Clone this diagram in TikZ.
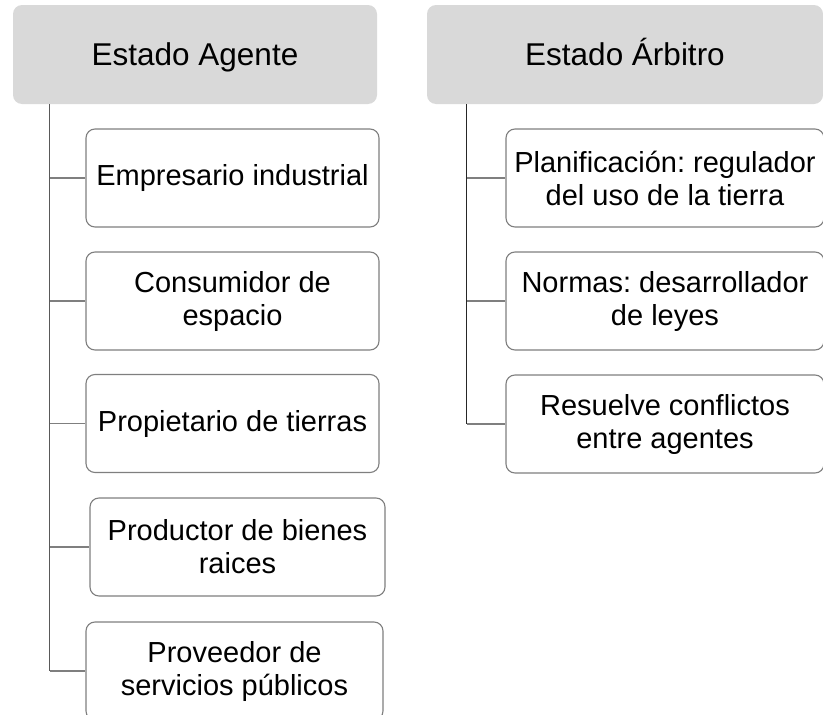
\documentclass[tikz,border=0pt]{standalone}
\usepackage{fontspec}
\setmainfont{Liberation Sans}
\usetikzlibrary{positioning}

\definecolor{cabecera}{HTML}{D9D9D9}
\definecolor{borde}{HTML}{7F7F7F}
\definecolor{tronco}{HTML}{595959}
\frenchspacing

\begin{document}
\begin{tikzpicture}[x=1pt,y=-1pt,
	titulo/.style={fill=cabecera, rounded corners=9pt, minimum height=99pt, inner sep=0pt, text height=22pt, text depth=0pt, font=\fontsize{31.5}{36}\selectfont},
	hijo/.style={draw=borde, line width=1.1pt, rounded corners=9pt, fill=white, minimum height=98pt, inner sep=2pt, align=center, font=\fontsize{29}{33}\selectfont},
	rama/.style={draw=borde, line width=1.1pt}]
					\useasboundingbox (0,0) rectangle (823,715);
					\clip (0,0) rectangle (823,715);
					% cabeceras
					\node[titulo, minimum width=364pt] (agente) at (195,54.5) {Estado Agente};
					\node[titulo, minimum width=396pt] (arbitro) at (625,54.5) {Estado Árbitro};
					% roles del estado agente
					\node[hijo, minimum width=293pt] (empresario) at (232.5,178) {Empresario industrial};
					\node[hijo, minimum width=293pt] (consumidor) at (232.5,301) {Consumidor de\\espacio};
					\node[hijo, minimum width=293pt] (propietario) at (232.5,423.5) {Propietario de tierras};
					\node[hijo, minimum width=295pt] (productor) at (237.5,547) {Productor de bienes\\raices};
					\node[hijo, minimum width=297pt] (proveedor) at (234.5,671) {Proveedor de\\servicios públicos};
					% roles del estado arbitro
					\node[hijo, minimum width=318pt] (planificacion) at (665,178) {Planificación: regulador\\del uso de la tierra};
					\node[hijo, minimum width=318pt] (normas) at (665,301) {Normas: desarrollador\\de leyes};
					\node[hijo, minimum width=318pt] (resuelve) at (665,424) {Resuelve conflictos\\entre agentes};
					% troncos
					\coordinate (troncoA) at ([xshift=37pt]agente.south west);
					\coordinate (troncoB) at ([xshift=40pt]arbitro.south west);
					\draw[tronco, line width=1.2pt] (troncoA) -- (troncoA |- proveedor.west);
					\draw[black!85, line width=1.2pt] (troncoB) -- (troncoB |- resuelve.west);
					\foreach \n in {empresario,consumidor,propietario,productor,proveedor}
						\draw[rama] (troncoA |- \n.west) -- (\n.west);
					\foreach \n in {planificacion,normas,resuelve}
						\draw[rama] (troncoB |- \n.west) -- (\n.west);
				\end{tikzpicture}
\end{document}
